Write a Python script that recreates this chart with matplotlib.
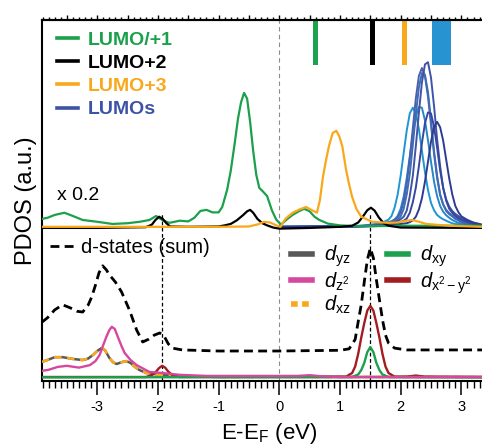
import matplotlib
matplotlib.use('Agg')
import matplotlib.pyplot as plt
from matplotlib.lines import Line2D
from matplotlib.ticker import MultipleLocator

plt.rcParams['font.family'] = ['Liberation Sans', 'DejaVu Sans']
plt.rcParams['mathtext.fontset'] = 'custom'
plt.rcParams['mathtext.rm'] = 'Liberation Sans'
plt.rcParams['mathtext.it'] = 'Liberation Sans:italic'
plt.rcParams['mathtext.bf'] = 'Liberation Sans:bold'
plt.rcParams['axes.unicode_minus'] = False

# ---- upper set (x 0.2), values relative to its own baseline ----
GREEN_X = [-3.91, -3.82, -3.7, -3.54, -3.4, -3.24, -3.0, -2.75, -2.5, -2.3, -2.14, -2.03, -1.92,
           -1.81, -1.64, -1.5, -1.4, -1.3, -1.2, -1.1, -1.0, -0.94, -0.86, -0.8, -0.74, -0.68,
           -0.63, -0.58, -0.53, -0.48, -0.43, -0.38, -0.33, -0.27, -0.2, -0.12, -0.05, 0.03,
           0.12, 0.22, 0.32, 0.41, 0.5, 0.58, 0.66, 0.8, 1.0, 1.3, 1.6, 2.0, 2.5, 3.0, 3.34]
GREEN_Y = [2.2, 2.5, 3.3, 3.9, 3.0, 1.9, 1.4, 0.8, 1.0, 1.4, 1.9, 3.0, 1.8,
           1.1, 1.7, 1.5, 2.5, 4.4, 4.7, 4.0, 4.0, 5.5, 10.2, 15.5, 22.5, 30.0,
           34.5, 37.1, 35.5, 29.0, 21.0, 14.5, 10.8, 9.8, 8.5, 4.5, 2.0, 0.6,
           2.0, 3.3, 4.3, 5.0, 4.3, 2.8, 1.9, 0.9, 0.4, 0.2, 0.2, 0.3, 0.3, 0.3, 0.3]

BLACK_X = [-3.91, -3.0, -2.2, -2.1, -2.04, -1.98, -1.92, -1.86, -1.8, -1.5, -1.0, -0.9, -0.8,
           -0.7, -0.6, -0.53, -0.48, -0.43, -0.36, -0.28, -0.2, -0.1, 0.0, 0.5, 1.0, 1.2, 1.3,
           1.38, 1.45, 1.51, 1.57, 1.64, 1.72, 1.8, 2.0, 3.34]
BLACK_Y = [-0.3, -0.3, -0.1, 0.6, 1.9, 2.8, 2.2, 1.0, 0.1, 0.0, 0.1, 0.4, 0.8,
           1.8, 3.2, 4.3, 4.7, 3.9, 2.2, 1.0, 0.4, -0.2, -0.5, -0.3, 0.0, 0.3, 1.2,
           2.9, 4.6, 5.3, 4.5, 2.6, 1.0, 0.3, -0.2, -0.3]

ORANGE_X = [-3.91, -1.0, -0.5, -0.35, -0.25, -0.15, -0.05, 0.02, 0.1, 0.22, 0.33, 0.44, 0.55,
            0.62, 0.67, 0.72, 0.77, 0.82, 0.88, 0.94, 0.99, 1.04, 1.1, 1.15, 1.2, 1.27, 1.35,
            1.53, 1.8, 1.95, 2.1, 2.19, 2.3, 2.42, 2.8, 3.34]
ORANGE_Y = [0.0, 0.0, 0.1, 0.7, 1.4, 1.2, 0.4, 0.0, 2.2, 3.9, 4.8, 5.5, 4.5,
            3.9, 7.5, 13.9, 18.5, 22.5, 26.0, 26.6, 25.0, 22.2, 15.8, 11.8, 8.3, 5.0, 2.8,
            1.4, 1.1, 1.2, 1.7, 1.9, 1.4, 0.8, 0.3, 0.0]

LUMOS_X = [0.0, 1.2, 1.4, 1.6, 1.7, 1.8, 1.85, 1.9, 1.95, 2.0, 2.05, 2.1, 2.15, 2.2, 2.25, 2.3,
           2.35, 2.4, 2.45, 2.5, 2.55, 2.6, 2.65, 2.7, 2.75, 2.8, 2.85, 2.9, 2.95, 3.0, 3.1,
           3.2, 3.35]
LUMOS_1 = [0, 0.2, 0.4, 0.8, 1.2, 2.0, 3.0, 5.3, 8.9, 14.2, 20.5, 26.7, 31.4, 33.0, 31.4, 27.1,
           21.1, 15.2, 10.2, 6.6, 4.6, 3.3, 2.6, 2.1, 1.7, 1.3, 1.0, 0.8, 0.7, 0.5, 0.3, 0.2, 0.1]
LUMOS_2 = [0, 0.15, 0.3, 0.6, 0.8, 1.2, 1.5, 2.0, 3.0, 5.0, 8.4, 13.5, 19.5, 25.5, 30.5, 33.2,
           33.0, 29.5, 24.0, 18.0, 12.5, 8.5, 5.8, 4.2, 3.2, 2.5, 1.9, 1.5, 1.1, 0.9, 0.5, 0.3, 0.15]
LUMOS_3 = [0, 0.15, 0.3, 0.6, 0.9, 1.3, 1.5, 2.0, 2.6, 4.0, 7.0, 11.9, 18.9, 27.3, 35.6, 41.8,
           44.0, 41.8, 36.1, 28.2, 20.2, 13.6, 8.8, 6.2, 4.4, 3.5, 2.9, 2.2, 1.8, 1.3, 0.8, 0.5, 0.2]
LUMOS_4 = [0, 0.1, 0.25, 0.5, 0.7, 1.1, 1.3, 1.6, 2.0, 2.9, 5.0, 9.0, 14.6, 22.6, 31.2, 38.6,
           42.6, 42.1, 37.3, 29.5, 20.9, 14.2, 9.0, 6.2, 4.7, 3.8, 3.2, 2.7, 2.2, 1.7, 1.1, 0.6, 0.3]
LUMOS_5 = [0, 0.1, 0.2, 0.4, 0.6, 0.9, 1.1, 1.3, 1.6, 2.1, 2.8, 4.5, 8.5, 14.1, 22.4, 31.6,
           40.0, 45.0, 45.6, 41.3, 33.4, 24.3, 16.8, 10.8, 7.6, 5.6, 4.4, 3.6, 3.0, 2.4, 1.6, 0.9, 0.4]
LUMOS_6 = [0, 0.1, 0.15, 0.3, 0.4, 0.6, 0.7, 0.8, 1.0, 1.3, 1.7, 2.3, 3.9, 6.8, 10.9, 16.8,
           23.2, 28.7, 31.7, 31.4, 27.7, 22.0, 15.6, 10.8, 7.2, 5.0, 3.9, 3.1, 2.5, 2.0, 1.3, 0.8, 0.4]
LUMOS_7 = [0, 0.1, 0.1, 0.2, 0.3, 0.4, 0.5, 0.6, 0.7, 0.8, 0.9, 1.0, 1.3, 1.8, 2.8, 4.8,
           7.9, 12.5, 18.0, 23.6, 27.6, 29.1, 27.6, 23.9, 18.6, 13.4, 9.0, 5.8, 4.1, 2.9, 1.9, 1.2, 0.6]
LUMOS_COLORS = ['#1f96d4', '#2687c8', '#4a60ad', '#3e6cb6', '#4053a6', '#3647a0', '#2e3c92']

# top bars (orbital energies)
MARK_X = [0.59, 1.53, 2.07, 2.675]
MARK_W = [0.08, 0.08, 0.08, 0.31]
MARK_C = ['#1ba34d', '#000000', '#f9a81b', '#2793d1']

# ---- lower set: d-projected states ----
DSUM_X = [-3.91, -3.82, -3.7, -3.57, -3.45, -3.33, -3.24, -3.15, -3.09, -3.03, -2.97, -2.91,
          -2.85, -2.8, -2.7, -2.6, -2.47, -2.35, -2.25, -2.15, -2.06, -1.97, -1.9, -1.83, -1.76,
          -1.6, -1.0, 0.0, 1.0, 1.15, 1.25, 1.3, 1.35, 1.4, 1.45, 1.5, 1.55, 1.6, 1.65, 1.7,
          1.75, 1.8, 1.9, 2.1, 3.34]
DSUM_Y = [16.3, 17.5, 19.7, 21.1, 20.3, 19.3, 19.1, 21.0, 23.3, 26.5, 30.0, 31.9,
          30.8, 29.4, 27.4, 24.7, 19.7, 14.1, 10.8, 11.6, 12.7, 13.3, 12.5, 10.3, 9.1,
          8.6, 8.3, 8.3, 8.5, 8.9, 11.5, 16.4, 21.1, 27.4, 33.5, 36.8, 34.1, 28.0, 22.5, 17.0,
          12.7, 10.5, 9.1, 8.6, 8.6]

DZ2_X = [-3.91, -3.8, -3.65, -3.5, -3.3, -3.12, -3.03, -2.96, -2.9, -2.85, -2.8, -2.76, -2.71,
         -2.66, -2.6, -2.55, -2.45, -2.35, -2.14, -1.92, -1.64, -1.2, 0.3, 0.5, 0.7, 1.0, 3.34]
DZ2_Y = [2.8, 3.1, 3.9, 4.2, 3.7, 4.4, 5.5, 7.2, 10.0, 12.2, 14.1, 15.0, 14.4,
         12.2, 9.7, 7.8, 5.8, 4.4, 2.5, 2.2, 1.7, 1.4, 1.4, 1.6, 1.3, 1.1, 1.1]

DYZ_X = [-3.91, -3.82, -3.7, -3.57, -3.4, -3.24, -3.15, -3.07, -3.0, -2.93, -2.87, -2.8, -2.74,
         -2.68, -2.6, -2.52, -2.45, -2.38, -2.3, -2.19, -1.97, -1.64, -1.0, 3.34]
DYZ_Y = [5.3, 5.8, 6.6, 6.6, 6.1, 5.8, 6.2, 7.2, 8.3, 9.1, 8.5, 6.4, 5.2,
         4.7, 5.2, 5.5, 5.0, 3.9, 3.0, 2.2, 1.7, 1.4, 1.1, 1.1]
DXZ_X = DYZ_X
DXZ_Y = DYZ_Y

DX2_X = [-3.91, -2.2, -2.1, -2.03, -1.98, -1.93, -1.88, -1.83, -1.76, -1.65, 1.1, 1.2, 1.25,
         1.3, 1.35, 1.4, 1.45, 1.5, 1.55, 1.6, 1.65, 1.7, 1.75, 1.8, 1.9, 2.1, 2.25, 2.4, 3.34]
DX2_Y = [1.1, 1.1, 1.6, 2.6, 3.6, 4.2, 3.7, 2.6, 1.6, 1.1, 1.2, 2.2, 4.0,
         7.5, 12.0, 16.0, 19.5, 20.8, 19.5, 16.0, 12.0, 7.5, 4.0, 2.2, 1.2, 1.2, 1.5, 1.2, 1.1]

DXY_X = [-3.91, 1.2, 1.3, 1.35, 1.4, 1.45, 1.5, 1.55, 1.6, 1.65, 1.7, 1.8, 3.34]
DXY_Y = [1.0, 1.1, 1.8, 3.0, 5.0, 8.0, 9.4, 8.0, 5.0, 3.0, 1.8, 1.1, 1.0]

TOP_OFFSET = 42.7
GREEN = '#1ba04b'
ORANGE = '#f9a81b'
MAGENTA = '#d6489d'
DARKRED = '#a31c21'
GRAY = '#585858'
BLUE = '#3d53a5'

fig = plt.figure(figsize=(4.82, 4.47), dpi=100)
ax = fig.add_axes([0.0871, 0.1477, 0.9129, 0.8076])

# guide lines
ax.axvline(0, color='#8c8c8c', lw=0.8, ls=(0, (4, 3)), zorder=1)
ax.vlines([-1.93, 1.5], 0, 46.3, colors='k', lw=0.9, linestyles=(0, (3, 2)), zorder=1)

# upper curves
for ys, c in zip([LUMOS_1, LUMOS_2, LUMOS_3, LUMOS_4, LUMOS_5, LUMOS_6, LUMOS_7], LUMOS_COLORS):
    ax.plot(LUMOS_X, [v + TOP_OFFSET for v in ys], color=c, lw=1.4, zorder=2)
ax.plot(GREEN_X, [v + TOP_OFFSET for v in GREEN_Y], color=GREEN, lw=1.6, zorder=3)
ax.plot(BLACK_X, [v + TOP_OFFSET for v in BLACK_Y], color='k', lw=1.6, zorder=3)
ax.plot(ORANGE_X, [v + TOP_OFFSET for v in ORANGE_Y], color=ORANGE, lw=1.6, zorder=3)

# lower curves
ax.plot(DYZ_X, DYZ_Y, color=GRAY, lw=1.8, zorder=3)
ax.plot(DXZ_X, DXZ_Y, color=ORANGE, lw=1.8, dashes=(3, 2.2), zorder=3)
ax.plot(DX2_X, DX2_Y, color=DARKRED, lw=1.7, zorder=3)
ax.plot(DXY_X, DXY_Y, color=GREEN, lw=1.7, zorder=3)
ax.plot(DZ2_X, DZ2_Y, color=MAGENTA, lw=1.7, zorder=3)
ax.plot(DSUM_X, DSUM_Y, color='k', lw=2.0, dashes=(3.2, 1.9), zorder=4)

# bars at the top
ax.bar(MARK_X, 12.5, width=MARK_W, bottom=87.5, color=MARK_C, zorder=2)

ax.set_xlim(-3.91, 3.34)
ax.set_ylim(0, 100)
ax.set_yticks([])

ax.text(0.034, 0.515, 'x 0.2', transform=ax.transAxes, fontsize=14, va='center')

# legends
h1 = [Line2D([], [], color=c, lw=2.6) for c in [GREEN, 'k', ORANGE, BLUE]]
leg1 = ax.legend(h1, ['LUMO/+1', 'LUMO+2', 'LUMO+3', 'LUMOs'], loc='upper left',
                 bbox_to_anchor=(0.034, 0.968), frameon=False, borderpad=0, borderaxespad=0,
                 handlelength=1.08, handletextpad=0.5, labelspacing=0.28,
                 prop={'weight': 'bold', 'size': 14},
                 labelcolor=[GREEN, 'k', ORANGE, BLUE])
ax.add_artist(leg1)

h2 = [Line2D([], [], color='k', lw=2.0, dashes=(3.2, 1.9))]
leg2 = ax.legend(h2, ['d-states (sum)'], loc='upper left', bbox_to_anchor=(0.018, 0.395),
                 frameon=False, borderpad=0, borderaxespad=0, handlelength=1.4,
                 handletextpad=0.15, fontsize=14.5)
ax.add_artist(leg2)

h3 = [Line2D([], [], color=GRAY, lw=4),
      Line2D([], [], color=MAGENTA, lw=4),
      Line2D([], [], color=ORANGE, lw=4, dashes=(1.2, 0.8)),
      Line2D([], [], color=GREEN, lw=4),
      Line2D([], [], color=DARKRED, lw=4)]
l3 = [r'$d_{\mathrm{yz}}$', r'$d_{\mathrm{z^2}}$', r'$d_{\mathrm{xz}}$',
      r'$d_{\mathrm{xy}}$', r'$d_{\mathrm{x^2-y^2}}$']
ax.legend(h3, l3, loc='upper left', bbox_to_anchor=(0.566, 0.38), ncol=2,
          frameon=False, borderpad=0, borderaxespad=0, handlelength=1.05,
          handletextpad=0.6, labelspacing=0.05, columnspacing=1.8, fontsize=14.5)

# axes styling
for s in ['left', 'bottom', 'top']:
    ax.spines[s].set_linewidth(1.5)
ax.spines['right'].set_visible(False)

ax.xaxis.set_major_locator(MultipleLocator(1))
ax.xaxis.set_minor_locator(MultipleLocator(0.1))
ax.tick_params(axis='x', which='major', direction='out', length=10, width=1.1,
               labelsize=10.5, pad=4)
ax.tick_params(axis='x', which='minor', direction='out', length=5, width=1.0)

top = ax.secondary_xaxis('top')
top.xaxis.set_major_locator(MultipleLocator(0.5))
top.xaxis.set_minor_locator(MultipleLocator(0.1))
top.tick_params(which='major', direction='out', length=3.5, width=1.0, labeltop=False)
top.tick_params(which='minor', direction='out', length=2, width=1.0)
top.spines['top'].set_linewidth(1.5)

ax.set_xlabel(r'E-E$_\mathrm{F}$ (eV)', fontsize=16)
ax.xaxis.set_label_coords(0.516, -0.112)
ax.xaxis.label.set_va('top')
ax.set_ylabel('PDOS (a.u.)', fontsize=17)
ax.yaxis.set_label_coords(-0.012, 0.5)

fig.savefig('out.png', dpi=100)
